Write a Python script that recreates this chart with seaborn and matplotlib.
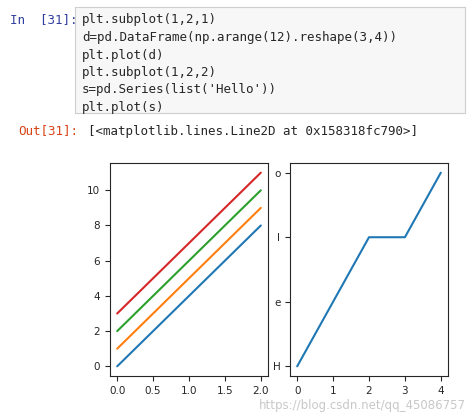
import numpy as np
import pandas as pd
import seaborn as sns
import matplotlib.pyplot as plt

# data
rows = [0, 1, 2]
col0 = [0, 4, 8]
col1 = [1, 5, 9]
col2 = [2, 6, 10]
col3 = [3, 7, 11]
letters = ['H', 'e', 'l', 'l', 'o']
letter_pos = [0, 1, 2, 3, 4]
letter_levels = ['H', 'e', 'l', 'o']

code_lines = ["plt.subplot(1,2,1)",
              "d=pd.DataFrame(np.arange(12).reshape(3,4))",
              "plt.plot(d)",
              "plt.subplot(1,2,2)",
              "s=pd.Series(list('Hello'))",
              "plt.plot(s)"]

sns.set_style("ticks")
plt.rcParams['font.family'] = ['DejaVu Sans']
W, H = 472, 420
fig = plt.figure(figsize=(W / 100, H / 100), dpi=100)

# notebook cell
box = fig.add_axes([75 / W, 1 - 113 / H, 390 / W, 106 / H])
box.set_facecolor('#f7f7f7')
box.set_xticks([]); box.set_yticks([])
for sp in box.spines.values():
    sp.set_color('#cfcfcf')
fig.text(10 / W, 1 - 20 / H, "In  [31]:", color='#303f9f', fontsize=9,
         family='DejaVu Sans Mono', va='center')
for i, line in enumerate(code_lines):
    fig.text(82 / W, 1 - (20 + 17.5 * i) / H, line, fontsize=9,
             family='DejaVu Sans Mono', va='center')
fig.text(18 / W, 1 - 131 / H, "Out[31]:", color='#d84315', fontsize=9,
         family='DejaVu Sans Mono', va='center')
fig.text(88 / W, 1 - 131 / H, "[<matplotlib.lines.Line2D at 0x158318fc790>]",
         fontsize=9, family='DejaVu Sans Mono', va='center')

# left subplot
ax1 = fig.add_axes([110 / W, 1 - 376 / H, 158 / W, 213 / H])
df = pd.DataFrame({'0': col0, '1': col1, '2': col2, '3': col3}, index=rows)
palette = sns.color_palette('tab10')
for k, c in enumerate(df.columns):
    sns.lineplot(x=df.index, y=df[c], ax=ax1, color=palette[k], linewidth=1.5)
ax1.set_xticks([0, 0.5, 1.0, 1.5, 2.0])
ax1.set_yticks([0, 2, 4, 6, 8, 10])
ax1.set_xlabel(''); ax1.set_ylabel('')

# right subplot
ax2 = fig.add_axes([290 / W, 1 - 376 / H, 158 / W, 213 / H])
codes = [letter_levels.index(ch) for ch in letters]
sns.lineplot(x=letter_pos, y=codes, ax=ax2, color=palette[0], linewidth=1.5)
ax2.set_yticks(range(len(letter_levels)))
ax2.set_yticklabels(letter_levels)
ax2.set_xticks([0, 1, 2, 3, 4])

for ax in (ax1, ax2):
    ax.tick_params(labelsize=7.5)
    for sp in ax.spines.values():
        sp.set_visible(True)
        sp.set_linewidth(0.8)

fig.text(466 / W, 1 - 406 / H, "https://blog.csdn.net/qq_45086757", color='#c8c8c8',
         fontsize=8.5, ha='right', va='center')

fig.savefig('out.png', dpi=100, facecolor='white')
